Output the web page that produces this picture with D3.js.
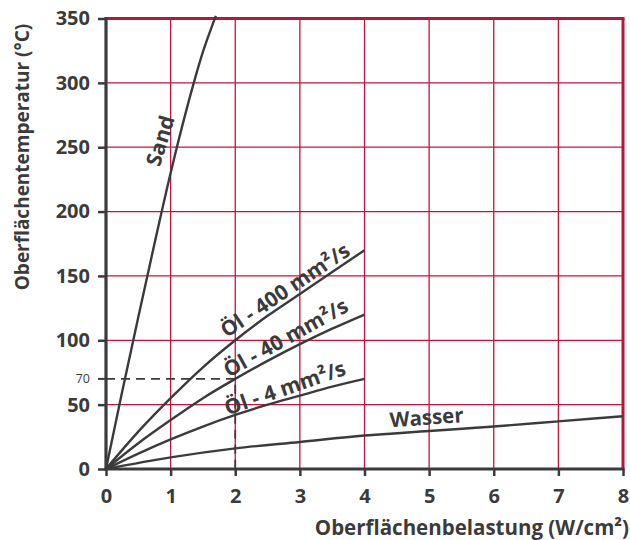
<!DOCTYPE html>
<html><head><meta charset="utf-8">
<script src="https://cdn.jsdelivr.net/npm/d3@7"></script>
<style>body{margin:0;background:#fff}svg{display:block}</style>
</head><body>
<svg id="c" width="630" height="540"></svg>
<script>
const xTicks = [0,1,2,3,4,5,6,7,8];
const yTicks = [0,50,100,150,200,250,300,350];
const sand   = [[0,0],[0.25,60],[0.5,118],[0.75,175],[1,230],[1.25,280],[1.5,324],[1.7,352]];
const oel400 = [[0,0],[0.5,29],[1,55],[1.5,79],[2,100],[2.5,119],[3,136],[3.5,153],[4,170]];
const oel40  = [[0,0],[0.5,20],[1,38],[1.5,55],[2,70],[2.5,84],[3,97],[3.5,109],[4,120]];
const oel4   = [[0,0],[0.5,12],[1,23],[1.5,33],[2,42],[2.5,50],[3,57],[3.5,64],[4,70]];
const wasser = [[0,0],[1,9],[2,16],[3,21],[4,26],[5,29.5],[6,33],[7,37],[8,41]];
const curves = [sand, oel400, oel40, oel4, wasser];
const labels = [
  {text:"Sand", x:0.84, y:255, rot:-73, size:21},
  {text:"Öl - 400 mm²/s", x:2.77, y:139, rot:-34, size:21},
  {text:"Öl - 40 mm²/s", x:2.78, y:102, rot:-29, size:21},
  {text:"Öl - 4 mm²/s", x:2.77, y:63, rot:-19, size:21},
  {text:"Wasser", x:4.96, y:40, rot:-4, size:20.5}
];
const marker = {x:2, y:70};

const svg = d3.select("#c");
const L=106, R=623, T=18.5, B=469;
const x = d3.scaleLinear().domain([0,8]).range([L,R]);
const y = d3.scaleLinear().domain([0,350]).range([B,T]);
const red = "#c3143f", dark = "#3b3b3b";
const font = "'Open Sans', sans-serif";

// grid
svg.append("g").selectAll("line").data(xTicks.slice(1,-1)).join("line")
  .attr("x1",d=>x(d)).attr("x2",d=>x(d)).attr("y1",T).attr("y2",B)
  .attr("stroke",red).attr("stroke-width",1.3);
svg.append("g").selectAll("line").data(yTicks.slice(1,-1)).join("line")
  .attr("x1",L).attr("x2",R).attr("y1",d=>y(d)).attr("y2",d=>y(d))
  .attr("stroke",red).attr("stroke-width",1.3);
// top & right border
svg.append("line").attr("x1",L).attr("x2",R+1.5).attr("y1",T).attr("y2",T).attr("stroke","#b8173c").attr("stroke-width",3);
svg.append("line").attr("x1",R).attr("x2",R).attr("y1",T).attr("y2",B).attr("stroke","#b8173c").attr("stroke-width",3);

// dashed marker
svg.append("path")
  .attr("d",`M${x(0)},${y(marker.y)}H${x(marker.x)}V${y(0)}`)
  .attr("fill","none").attr("stroke",dark).attr("stroke-width",1.8).attr("stroke-dasharray","9,6");

// curves
const line = d3.line().x(d=>x(d[0])).y(d=>y(d[1])).curve(d3.curveMonotoneX);
svg.append("g").selectAll("path").data(curves).join("path")
  .attr("d",line).attr("fill","none").attr("stroke",dark).attr("stroke-width",2.4);

// axes
const xAxis = d3.axisBottom(x).tickValues(xTicks).tickSize(7).tickPadding(13).tickSizeOuter(0);
const gx = svg.append("g").attr("transform",`translate(0,${B})`).call(xAxis);
const yAxis = d3.axisLeft(y).tickValues(yTicks).tickSize(8).tickPadding(8).tickSizeOuter(0);
const gy = svg.append("g").attr("transform",`translate(${L},0)`).call(yAxis);
[gx,gy].forEach(g=>{
  g.select(".domain").attr("stroke",dark).attr("stroke-width",3.2);
  g.selectAll(".tick line").attr("stroke",dark).attr("stroke-width",2.5);
  g.selectAll(".tick text").attr("fill",dark).attr("font-family",font).attr("font-weight",700).attr("font-size",20);
});
gx.select(".domain").attr("d",`M${L-1.5},0H${R+1.5}`);
gy.select(".domain").attr("d",`M0,${B+1.5}V${T-1.5}`);
// 70 tick
const g70 = svg.append("g").attr("transform",`translate(${L},${y(marker.y)})`);
g70.append("line").attr("x1",-8).attr("x2",0).attr("stroke",dark).attr("stroke-width",2);
g70.append("text").attr("x",-16).attr("dy","0.35em").attr("text-anchor","end")
  .attr("font-family",font).attr("font-size",12.5).attr("fill",dark).text(marker.y);

// curve labels
svg.append("g").selectAll("text").data(labels).join("text")
  .attr("transform",d=>`translate(${x(d.x)},${y(d.y)}) rotate(${d.rot})`)
  .attr("text-anchor","middle").attr("dy","0.35em")
  .attr("font-family",font).attr("font-weight",700).attr("font-size",d=>d.size).attr("fill",dark)
  .text(d=>d.text);

// axis titles
svg.append("text").attr("x",629).attr("y",535).attr("text-anchor","end")
  .attr("font-family",font).attr("font-weight",700).attr("font-size",20.5).attr("fill",dark)
  .text("Oberflächenbelastung (W/cm²)");
svg.append("text").attr("transform","translate(29,157) rotate(-90)").attr("text-anchor","middle")
  .attr("font-family",font).attr("font-weight",700).attr("font-size",19).attr("fill",dark)
  .text("Oberflächentemperatur (°C)");
</script>
</body></html>
